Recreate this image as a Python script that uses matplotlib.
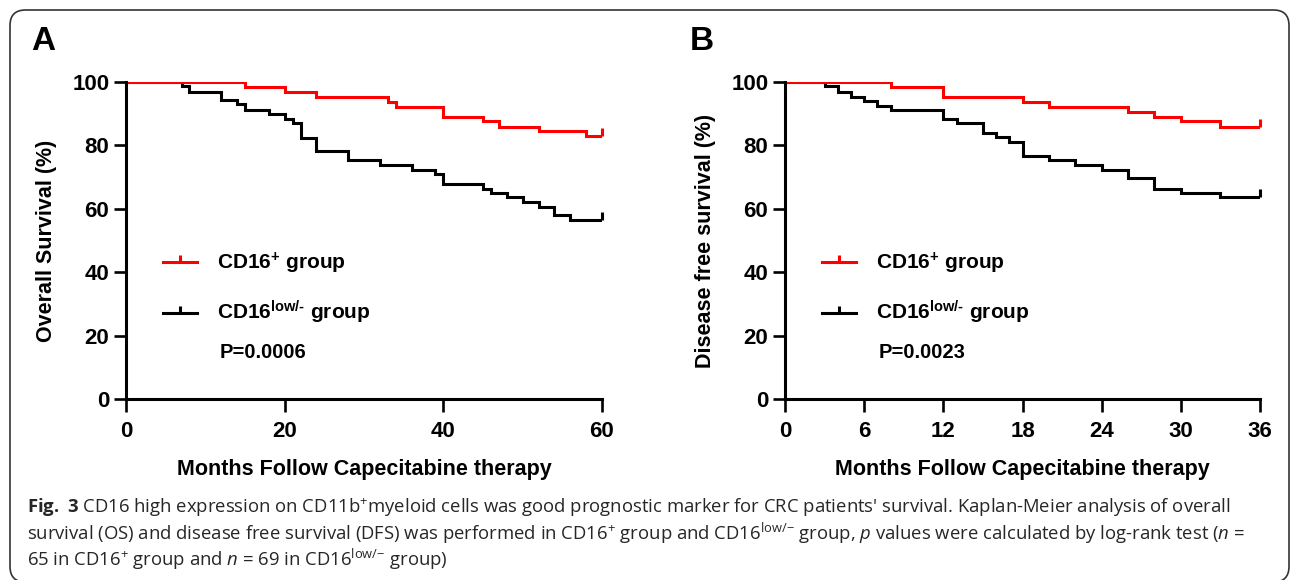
import matplotlib
matplotlib.use("Agg")
import matplotlib.pyplot as plt
from matplotlib.lines import Line2D
from matplotlib.patches import FancyBboxPatch

# ---------------- data ----------------
os_months_pos = [0, 15, 20, 24, 33, 34, 40, 45, 47, 52, 58, 60]
os_surv_pos = [100, 98.5, 96.9, 95.4, 93.8, 92.1, 89.1, 87.6, 85.9, 84.4, 83.0, 83.0]
os_months_low = [0, 7, 8, 12, 14, 15, 18, 20, 21, 22, 24, 28, 32, 36, 39, 40, 45, 46, 48, 50, 52, 54, 56, 60]
os_surv_low = [100, 98.6, 96.9, 94.3, 93.2, 91.2, 89.9, 88.3, 87.0, 82.2, 78.3, 75.4, 73.8, 72.2,
               70.9, 67.8, 66.4, 65.1, 63.6, 62.2, 60.7, 58.0, 56.5, 56.5]

dfs_months_pos = [0, 8, 12, 18, 20, 26, 28, 30, 33, 36]
dfs_surv_pos = [100, 98.5, 95.4, 93.8, 92.1, 90.6, 89.1, 87.6, 85.9, 85.9]
dfs_months_low = [0, 3, 4, 5, 6, 7, 8, 12, 13, 15, 16, 17, 18, 20, 22, 24, 26, 28, 30, 33, 36]
dfs_surv_low = [100, 98.6, 96.9, 95.4, 94.0, 92.5, 91.2, 88.3, 87.0, 84.0, 82.5, 81.2, 76.7,
                75.4, 73.8, 72.2, 69.6, 66.4, 65.1, 63.8, 63.8]

y_ticks = [0, 20, 40, 60, 80, 100]
x_ticks_a = [0, 20, 40, 60]
x_ticks_b = [0, 6, 12, 18, 24, 30, 36]

label_pos = r"CD16$\mathregular{^{+}}$ group"
label_low = "CD16$\\mathregular{^{low/\u2010}}$ group"
p_a = "P=0.0006"
p_b = "P=0.0023"
xlabel = "Months Follow Capecitabine therapy"
ylabel_a = "Overall Survival (%)"
ylabel_b = "Disease free survival (%)"

# ---------------- style ----------------
plt.rcParams["font.family"] = ["Liberation Sans", "DejaVu Sans"]
plt.rcParams["mathtext.fontset"] = "custom"
plt.rcParams["mathtext.rm"] = "Open Sans"
plt.rcParams["mathtext.it"] = "Open Sans:italic"
plt.rcParams["mathtext.bf"] = "Open Sans:bold"

W, H = 1292, 580
fig = plt.figure(figsize=(W / 100, H / 100), dpi=100)

RED = "#ff0000"
BLACK = "#000000"
LW = 2.2


def fx(px):
    return px / W


def fy(py):
    return 1 - py / H


def make_panel(left_px, right_px, t_pos, s_pos, t_low, s_low, xticks, ylabel, ptext, ylabel_x):
    ax = fig.add_axes([fx(left_px), fy(399), fx(right_px - left_px), (399 - 82) / H])
    ax.step(t_low, s_low, where="post", color=BLACK, lw=LW, solid_joinstyle="miter")
    ax.step(t_pos, s_pos, where="post", color=RED, lw=LW, solid_joinstyle="miter")
    # censor ticks at the end of each curve
    ax.plot([t_low[-1]], [s_low[-1]], marker=2, ms=6, mew=LW, color=BLACK, clip_on=False)
    ax.plot([t_pos[-1]], [s_pos[-1]], marker=2, ms=6, mew=LW, color=RED, clip_on=False)
    ax.set_xlim(0, xticks[-1])
    ax.set_ylim(0, 100)
    ax.set_xticks(xticks)
    ax.set_yticks(y_ticks)
    for s in ["top", "right"]:
        ax.spines[s].set_visible(False)
    for s in ["left", "bottom"]:
        ax.spines[s].set_linewidth(2.2)
    ax.tick_params(axis="both", length=9, width=1.9, labelsize=16)
    ax.tick_params(axis="x", pad=7)
    ax.tick_params(axis="y", pad=3)
    for lab in ax.get_xticklabels() + ax.get_yticklabels():
        lab.set_fontweight("bold")
    ax.set_xlabel(xlabel, fontsize=15.5, fontweight="bold", va="center")
    ax.xaxis.set_label_coords(0.5, (399 - 469) / 317)
    ax.set_ylabel(ylabel, fontsize=15.5, fontweight="bold", va="center")
    ax.yaxis.set_label_coords((ylabel_x - left_px) / (right_px - left_px), 0.5)

    handles = [
        Line2D([], [], color=RED, lw=LW, marker=2, ms=5, mew=LW),
        Line2D([], [], color=BLACK, lw=LW, marker=2, ms=5, mew=LW),
    ]
    ax.legend(handles, [label_pos, label_low], loc="upper left",
              bbox_to_anchor=(fx(left_px + 37), fy(251)), bbox_transform=fig.transFigure,
              frameon=False, borderpad=0, borderaxespad=0, handlelength=1.65,
              handletextpad=0.95, labelspacing=1.1,
              prop={"family": "Liberation Sans", "weight": "bold", "size": 15})
    ax.text(94 / (right_px - left_px), (399 - 352) / 317, ptext,
            transform=ax.transAxes, fontsize=14.5, fontweight="bold", va="center", ha="left")
    return ax


make_panel(126, 602, os_months_pos, os_surv_pos, os_months_low, os_surv_low,
           x_ticks_a, ylabel_a, p_a, 47)
make_panel(785, 1260, dfs_months_pos, dfs_surv_pos, dfs_months_low, dfs_surv_low,
           x_ticks_b, ylabel_b, p_b, 705)

fig.text(fx(31), fy(41), "A", fontsize=24, fontweight="bold", ha="left", va="center")
fig.text(fx(690), fy(41), "B", fontsize=24, fontweight="bold", ha="left", va="center")

# caption
cap_kw = dict(fontsize=13.3, family="Open Sans", color="#262626", ha="left", va="baseline")
cap1 = (r"$\mathbf{Fig.\ 3}$ CD16 high expression on CD11b$\mathregular{^{+}}$myeloid cells was good "
        r"prognostic marker for CRC patients' survival. Kaplan-Meier analysis of overall")
cap2 = (r"survival (OS) and disease free survival (DFS) was performed in CD16$\mathregular{^{+}}$ group and "
        r"CD16$\mathregular{^{low/{-}}}$ group, $\mathit{p}$ values were calculated by log-rank test ($\mathit{n}$ =")
cap3 = (r"65 in CD16$\mathregular{^{+}}$ group and $\mathit{n}$ = 69 in CD16$\mathregular{^{low/{-}}}$ group)")
fig.text(fx(27), fy(513), cap1, **cap_kw)
fig.text(fx(27), fy(540), cap2, **cap_kw)
fig.text(fx(27), fy(566), cap3, **cap_kw)

# rounded frame
frame = FancyBboxPatch((fx(10), fy(582)), fx(1279), (582 - 10) / H,
                       boxstyle="round,pad=0,rounding_size=0.012",
                       transform=fig.transFigure, fill=False, edgecolor="#333333", lw=1.2,
                       mutation_aspect=W / H)
fig.patches.append(frame)

fig.savefig("out.png", dpi=100)
